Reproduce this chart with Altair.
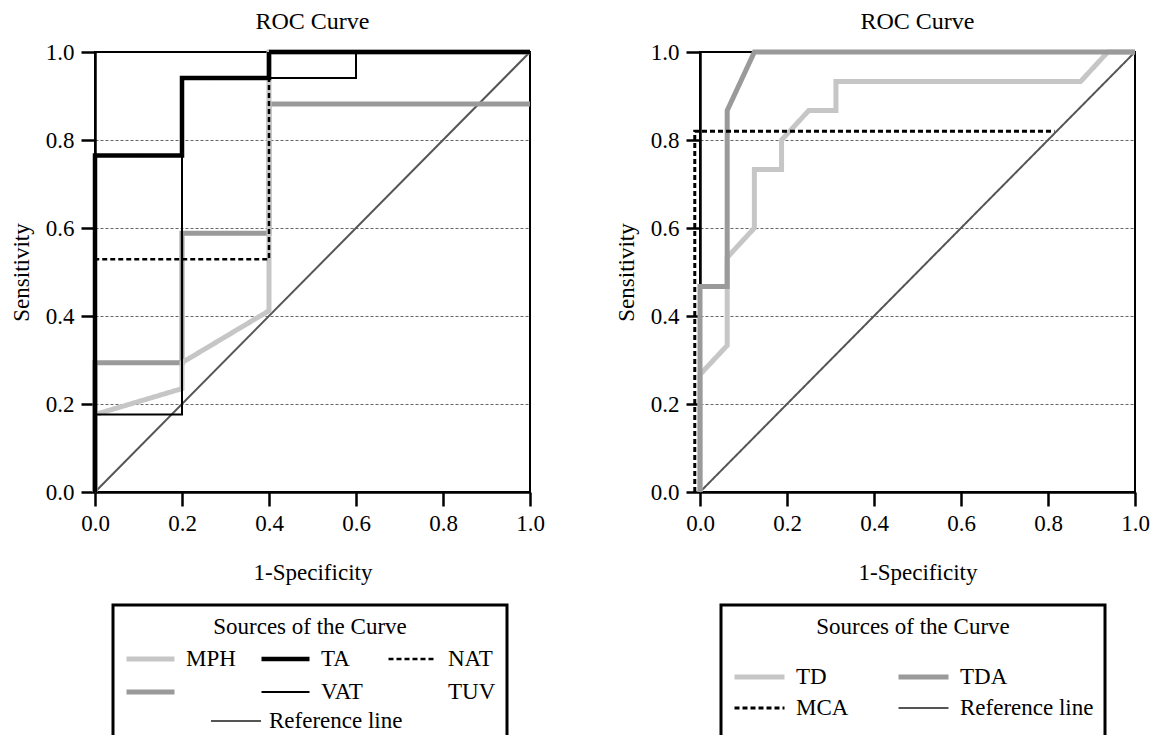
import altair as alt
import pandas as pd

# ---------------- data ----------------
# Left panel curves
MPH_X = [0.0, 0.0, 0.2, 0.2, 0.4, 0.4, 1.0]
MPH_Y = [0.0, 0.176, 0.235, 0.294, 0.412, 1.0, 1.0]
G_X = [0.0, 0.0, 0.2, 0.2, 0.4, 0.4, 1.0]          # unlabeled grey curve
G_Y = [0.0, 0.294, 0.294, 0.588, 0.588, 0.882, 0.882]
NAT_X = [0.0, 0.0, 0.4, 0.4, 1.0]
NAT_Y = [0.0, 0.529, 0.529, 1.0, 1.0]
VAT_X = [0.0, 0.0, 0.2, 0.2, 0.6, 0.6, 1.0]
VAT_Y = [0.0, 0.176, 0.176, 0.941, 0.941, 1.0, 1.0]
TA_X = [0.0, 0.0, 0.2, 0.2, 0.4, 0.4, 1.0]
TA_Y = [0.0, 0.765, 0.765, 0.941, 0.941, 1.0, 1.0]
REF_X = [0.0, 1.0]
REF_Y = [0.0, 1.0]

# Right panel curves
TD_X = [0.0, 0.0, 0.0625, 0.0625, 0.125, 0.125, 0.1875, 0.1875, 0.25, 0.3125, 0.3125, 0.875, 0.9375, 1.0]
TD_Y = [0.0, 0.267, 0.333, 0.533, 0.6, 0.733, 0.733, 0.8, 0.867, 0.867, 0.933, 0.933, 1.0, 1.0]
TDA_X = [0.0, 0.0, 0.0625, 0.0625, 0.125, 1.0]
TDA_Y = [0.0, 0.467, 0.467, 0.867, 1.0, 1.0]
MCA_X = [-0.012, -0.012, 0.815]
MCA_Y = [0.0, 0.82, 0.82]

TICKS = [0.0, 0.2, 0.4, 0.6, 0.8, 1.0]

# legend entries (blank names are unlabeled entries)
LEFT_NAMES = ["MPH", "TA", "NAT", " ", "VAT", "TUV", "  ", "   ", "    "]
RIGHT_NAMES = ["TD", "TDA", "MCA", "Reference line", " ", "  "]

# ---------------- styles ----------------
LIGHT = "#c6c6c6"
MID = "#9a9a9a"
REFC = "#555555"
NONE = "rgba(0,0,0,0)"
FONT = "Liberation Serif"

LEFT_COLORS = [LIGHT, "#000000", "#000000", MID, "#000000", NONE, NONE, NONE, NONE]
LEFT_DASH = [[1, 0], [1, 0], [5, 3], [1, 0], [1, 0], [1, 0], [1, 0], [1, 0], [1, 0]]
LEFT_WIDTH = [5, 4.5, 2.5, 5, 2, 0, 0, 0, 0]

RIGHT_COLORS = [LIGHT, MID, "#000000", REFC, NONE, NONE]
RIGHT_DASH = [[1, 0], [1, 0], [5, 3], [1, 0], [1, 0], [1, 0]]
RIGHT_WIDTH = [5, 5, 3, 2, 0, 0]


def table(name, xs, ys):
    return pd.DataFrame({"series": name, "x": xs, "y": ys, "i": list(range(len(xs)))})


left_df = pd.concat([
    table(" ", G_X, G_Y),
    table("MPH", MPH_X, MPH_Y),
    table("NAT", NAT_X, NAT_Y),
    table("VAT", VAT_X, VAT_Y),
    table("TA", TA_X, TA_Y),
], ignore_index=True)
left_ref_df = pd.DataFrame({"ref": "Reference line", "x": REF_X, "y": REF_Y, "i": [0, 1]})

right_df = pd.concat([
    table("Reference line", REF_X, REF_Y),
    table("TD", TD_X, TD_Y),
    table("TDA", TDA_X, TDA_Y),
    table("MCA", MCA_X, MCA_Y),
], ignore_index=True)

grid_op = alt.condition("datum.value <= 0 || datum.value >= 1", alt.value(0), alt.value(1))
x_axis = alt.Axis(values=TICKS, format=".1f", title="1-Specificity", grid=False,
                  labelFlush=False, titlePadding=26, labelPadding=6)
y_axis = alt.Axis(values=TICKS, format=".1f", title="Sensitivity", grid=True,
                  gridOpacity=grid_op, labelFlush=False, titlePadding=12, labelPadding=7)
xs = alt.Scale(domain=[0, 1], nice=False, zero=False)
ys = alt.Scale(domain=[0, 1], nice=False, zero=False)

W, H = 435, 440


def legend_obj(cols, x, y, col_pad, title_pad, row_pad, sym):
    return alt.Legend(
        title="Sources of the Curve", orient="none", legendX=x, legendY=y,
        direction="horizontal", columns=cols, columnPadding=col_pad, rowPadding=row_pad,
        gridAlign="each", strokeColor="black", padding=11, titleAnchor="middle",
        titlePadding=title_pad, titleLimit=500, symbolType="stroke", symbolSize=sym,
        clipHeight=26, labelOffset=9, titleFont=FONT, titleFontSize=23,
        titleFontWeight="normal", labelFont=FONT, labelFontSize=23,
        labelColor="black", titleColor="black",
    )


def curves(df, names, domain, colors, dashes, widths, legend):
    layers = []
    for n in names:
        layers.append(
            alt.Chart(df).transform_filter(alt.datum.series == n).mark_line(clip=False).encode(
                x=alt.X("x:Q", scale=xs, axis=x_axis),
                y=alt.Y("y:Q", scale=ys, axis=y_axis),
                order=alt.Order("i:Q"),
                color=alt.Color("series:N", scale=alt.Scale(domain=domain, range=colors), legend=legend),
                strokeDash=alt.StrokeDash("series:N", scale=alt.Scale(domain=domain, range=dashes), legend=legend),
                strokeWidth=alt.StrokeWidth("series:N", scale=alt.Scale(type="ordinal", domain=domain, range=widths), legend=legend),
            )
        )
    return alt.layer(*layers)


left_leg = legend_obj(3, 18, 553, 23, 7, 7, 2304)
right_leg = legend_obj(2, 21, 553, 47, 25, 5, 2500)

ref_left = alt.Chart(left_ref_df).mark_line(strokeWidth=2, clip=False).encode(
    x=alt.X("x:Q", scale=xs, axis=x_axis),
    y=alt.Y("y:Q", scale=ys, axis=y_axis),
    order=alt.Order("i:Q"),
    color=alt.Color("ref:N", scale=alt.Scale(domain=["Reference line"], range=[REFC]),
                    legend=alt.Legend(title=None, orient="none", legendX=115, legendY=656,
                                      padding=0, symbolType="stroke", symbolSize=2500,
                                      clipHeight=26, symbolStrokeWidth=2, labelOffset=7,
                                      labelFont=FONT, labelFontSize=23, labelColor="black",
                                      labelLimit=300)),
)

left_curves = curves(left_df, [" ", "MPH", "NAT", "VAT", "TA"], LEFT_NAMES,
                     LEFT_COLORS, LEFT_DASH, LEFT_WIDTH, left_leg)
left = alt.layer(ref_left, left_curves).resolve_scale(
    color="independent", strokeDash="independent", strokeWidth="independent"
).properties(width=W, height=H, title="ROC Curve")

right = curves(right_df, ["Reference line", "TD", "TDA", "MCA"], RIGHT_NAMES,
               RIGHT_COLORS, RIGHT_DASH, RIGHT_WIDTH, right_leg).properties(
    width=W, height=H, title="ROC Curve")

chart = alt.hconcat(left, right, spacing=68).resolve_scale(
    color="independent", strokeDash="independent", strokeWidth="independent"
).properties(
    padding={"left": 1, "top": 1, "right": 0, "bottom": 0}, background="white"
).configure_view(
    stroke="black", strokeWidth=2
).configure_axis(
    labelFont=FONT, labelFontSize=23, labelColor="black",
    titleFont=FONT, titleFontSize=23, titleFontWeight="normal", titleColor="black",
    domainColor="black", domainWidth=2.5, tickColor="black", tickWidth=2.5, tickSize=14,
    gridColor="#666666", gridDash=[3, 2], gridWidth=1,
).configure_legend(
    strokeWidth=3
).configure_title(
    font=FONT, fontSize=24, fontWeight="normal", color="black", anchor="middle", offset=7
)

chart.save("out.html", embed_options={"renderer": "svg", "actions": False})
